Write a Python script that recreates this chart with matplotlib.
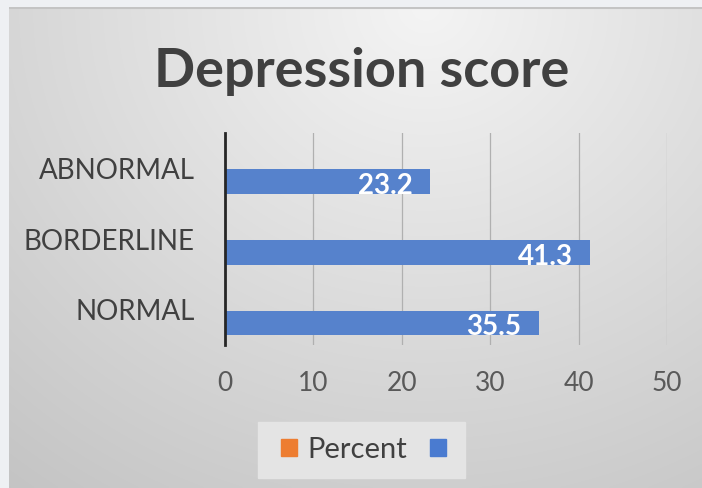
import numpy as np
import matplotlib
matplotlib.use('Agg')
import matplotlib.pyplot as plt
from matplotlib.patches import Patch, Rectangle

# data
categories = ['NORMAL', 'BORDERLINE', 'ABNORMAL']
blue_values = [35.5, 41.3, 23.2]
percent_values = [0, 0, 0]   # the "Percent" series is empty in the source chart
x_ticks = [0, 10, 20, 30, 40, 50]

plt.rcParams['font.family'] = ['Lato', 'DejaVu Sans']

fig = plt.figure(figsize=(7.02, 4.88), dpi=100)
fig.patch.set_facecolor('#eef0f3')

# grey gradient panel behind the chart
bg = fig.add_axes([9 / 702, 0, 1 - 9 / 702, 1 - 7 / 488], zorder=-5)
h, w = 200, 300
yy, xx = np.mgrid[0:h, 0:w]
d = np.sqrt(((xx / w - 0.6) * 1.3) ** 2 + (yy / h) ** 2)
shade = np.clip(244 - 38 * d, 195, 245) / 255.0
img = np.dstack([shade, shade, shade])
bg.imshow(img, aspect='auto', extent=(0, 1, 0, 1), interpolation='bilinear')
bg.set_axis_off()
bg.plot([0, 1], [0.998, 0.998], color='#c4c4c4', lw=1.5, transform=bg.transAxes)

ax = fig.add_axes([225 / 702, 1 - 345 / 488, 442 / 702, 212 / 488])
ax.set_facecolor('none')

pos = np.arange(len(categories))
bar_h = 0.35
ax.barh(pos + 0.19, percent_values, height=bar_h, color='#ed7d31', zorder=3)
ax.barh(pos - 0.19, blue_values, height=bar_h, color='#5682cc', zorder=3)

for p, v in zip(pos, blue_values):
    ax.text(v - 2.0, p - 0.25, f'{v}', ha='right', va='center', color='white',
            fontsize=20, fontweight='bold', zorder=4)

ax.set_xlim(0, 50)
ax.set_ylim(-0.5, 2.5)
ax.set_xticks(x_ticks)
ax.set_yticks(pos)
ax.set_yticklabels(categories)
ax.tick_params(axis='x', length=0, pad=19, labelsize=19, labelcolor='#595959')
ax.tick_params(axis='y', length=0, pad=22, labelsize=20, labelcolor='#404040')
ax.grid(axis='x', color='#b0b0b0', lw=0.9, zorder=0)
for s in ['top', 'right', 'bottom']:
    ax.spines[s].set_visible(False)
ax.spines['left'].set_color('#262626')
ax.spines['left'].set_linewidth(2)
ax.spines['left'].set_zorder(5)

fig.text(362 / 702, 1 - 71 / 488, 'Depression score', ha='center', va='center',
         fontsize=39, fontweight='bold', color='#404040')

# legend box
fig.patches.append(Rectangle((258 / 702, 1 - 478 / 488), 207 / 702, 56 / 488,
                             transform=fig.transFigure, color='#e4e4e4', zorder=0))
handles = [Patch(color='#ed7d31'), Patch(color='#4a7bd0')]
leg = fig.legend(handles, ['Percent', ''], loc='center left', ncol=2,
                 bbox_to_anchor=(281 / 702, 1 - 450 / 488), fontsize=21,
                 handlelength=0.55, handleheight=0.55, handletextpad=0.35,
                 columnspacing=0.8, borderpad=0, borderaxespad=0, frameon=False)
for t in leg.get_texts():
    t.set_color('#404040')

fig.savefig('out.png', dpi=100, facecolor=fig.get_facecolor())
